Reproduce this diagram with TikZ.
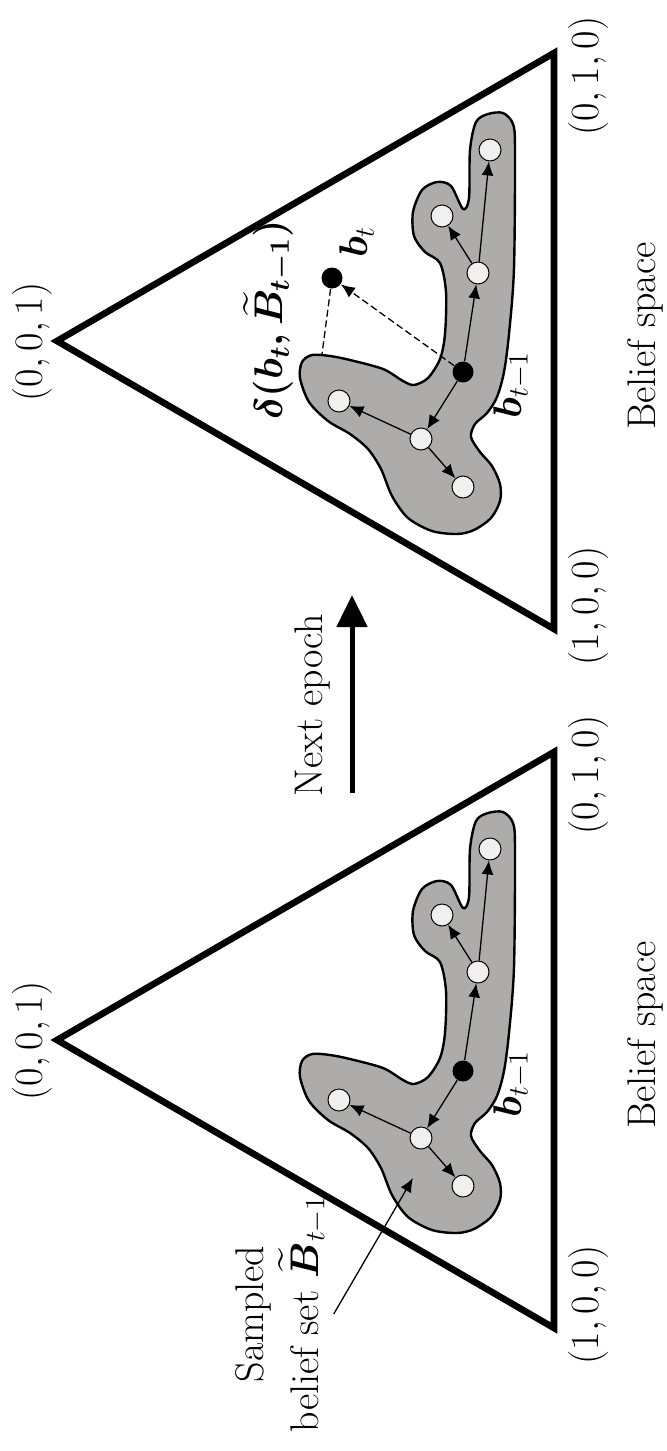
\RequirePackage{fix-cm}
\documentclass[tikz,border=0pt]{standalone}
\usepackage{amsmath}
\usetikzlibrary{arrows.meta}
\definecolor{blobgray}{RGB}{174,172,171}
\definecolor{dotfill}{RGB}{240,240,240}
\newcommand\lblsize{\fontsize{20}{27.5}\selectfont}
% outline of the sampled set (one panel)
\newcommand\blobplot{plot[smooth cycle, tension=0.5] coordinates {(503,113) (513,124) (515,150) (514,268) (509,334) (504,372) (497,397) (487,413) (475,424) (471,437) (480,452) (492,466) (500,484) (500,501) (491,518) (474,530) (457,534) (432,531) (408,518) (392,496) (381,469) (368,449) (350,434) (328,421) (309,402) (300,378) (302,362) (312,355) (330,356) (350,360) (383,369) (403,381) (414,385) (428,378) (440,359) (445,334) (446,292) (440,263) (425,252) (414,236) (413,212) (422,190) (437,182) (451,186) (463,209) (469,198) (470,150) (476,122) (488,114)}}

\begin{document}
\begin{tikzpicture}[x=0.5pt, y=-0.5pt,
  every node/.style={font=\lblsize},
  tri/.style={line width=3.3pt, line join=miter},
  blob/.style={draw, fill=blobgray, line width=1.2pt},
  wpt/.style={circle, draw, fill=dotfill, line width=0.5pt, minimum size=11pt, inner sep=0pt},
  bpt/.style={circle, fill=black, minimum size=10.5pt, inner sep=0pt},
  trans/.style={line width=0.65pt, -{Latex[length=7pt, width=6pt]}},
  dashline/.style={line width=0.65pt, dash pattern=on 3.5pt off 1.8pt},
  lbl/.style={rotate=90}]
\useasboundingbox (0,0) rectangle (666,1451);

% both panels: simplex, sampled set and its points
\foreach \dy/\p in {0/r, 699/l}{
\begin{scope}[shift={(0,\dy)}]
\coordinate (apex\p) at (57,341);
\coordinate (cb\p) at (554,53);
\coordinate (ca\p) at (554,629);
\draw[tri] (apex\p) -- (cb\p) -- (ca\p) -- cycle;
\path[blob] \blobplot;
\node[bpt] (prev\p) at (463,372) {};
\node[wpt] (hub\p) at (421,439) {};
\node[wpt] (left\p) at (339,401) {};
\node[wpt] (low\p) at (463,487) {};
\node[wpt] (mid\p) at (478,273) {};
\node[wpt] (side\p) at (442,216) {};
\node[wpt] (far\p) at (490,150) {};
\draw[trans] (prev\p) -- (hub\p);
\draw[trans] (hub\p) -- (left\p);
\draw[trans] (hub\p) -- (low\p);
\draw[trans] (prev\p) -- (mid\p);
\draw[trans] (mid\p) -- (side\p);
\draw[trans] (mid\p) -- (far\p);
\node[lbl] at (512,385) {$\boldsymbol{b}_{t-1}$};
\node[lbl] at (32,342) {$(0,0,1)$};
\node[lbl] at (588,76) {$(0,1,0)$};
\node[lbl] at (588,606) {$(1,0,0)$};
\node[lbl] at (645,336) {Belief space};
\end{scope}
}

% new belief and its distance to the set
\node[bpt] (bt) at (332,278) {};
\coordinate (gap) at (322,354);
\draw[dashline, -{Latex[length=7pt, width=6pt]}] (prevr) -- (bt);
\draw[dashline] (bt) -- (gap);
\node[lbl] at (357,242) {$\boldsymbol{b}_t$};
\node[lbl] at (268,320) {$\boldsymbol{\delta(b_t,\widetilde{B}_{t-1})}$};

% epoch arrow
\coordinate (epochfrom) at (352,793);
\coordinate (epochto) at (352,595);
\draw[line width=2.5pt, -{Triangle[length=16pt, width=15pt]}] (epochfrom) -- (epochto);
\node[lbl] (epoch) at (313,705) {Next epoch};

% pointer to the sampled set
\node[lbl, align=center] (sampled) at (281,1314) {Sampled\\belief set $\widetilde{\boldsymbol{B}}_{t-1}$};
\coordinate (setpt) at (413,1178);
\draw[trans] (sampled.south) -- (setpt);
\end{tikzpicture}
\end{document}
